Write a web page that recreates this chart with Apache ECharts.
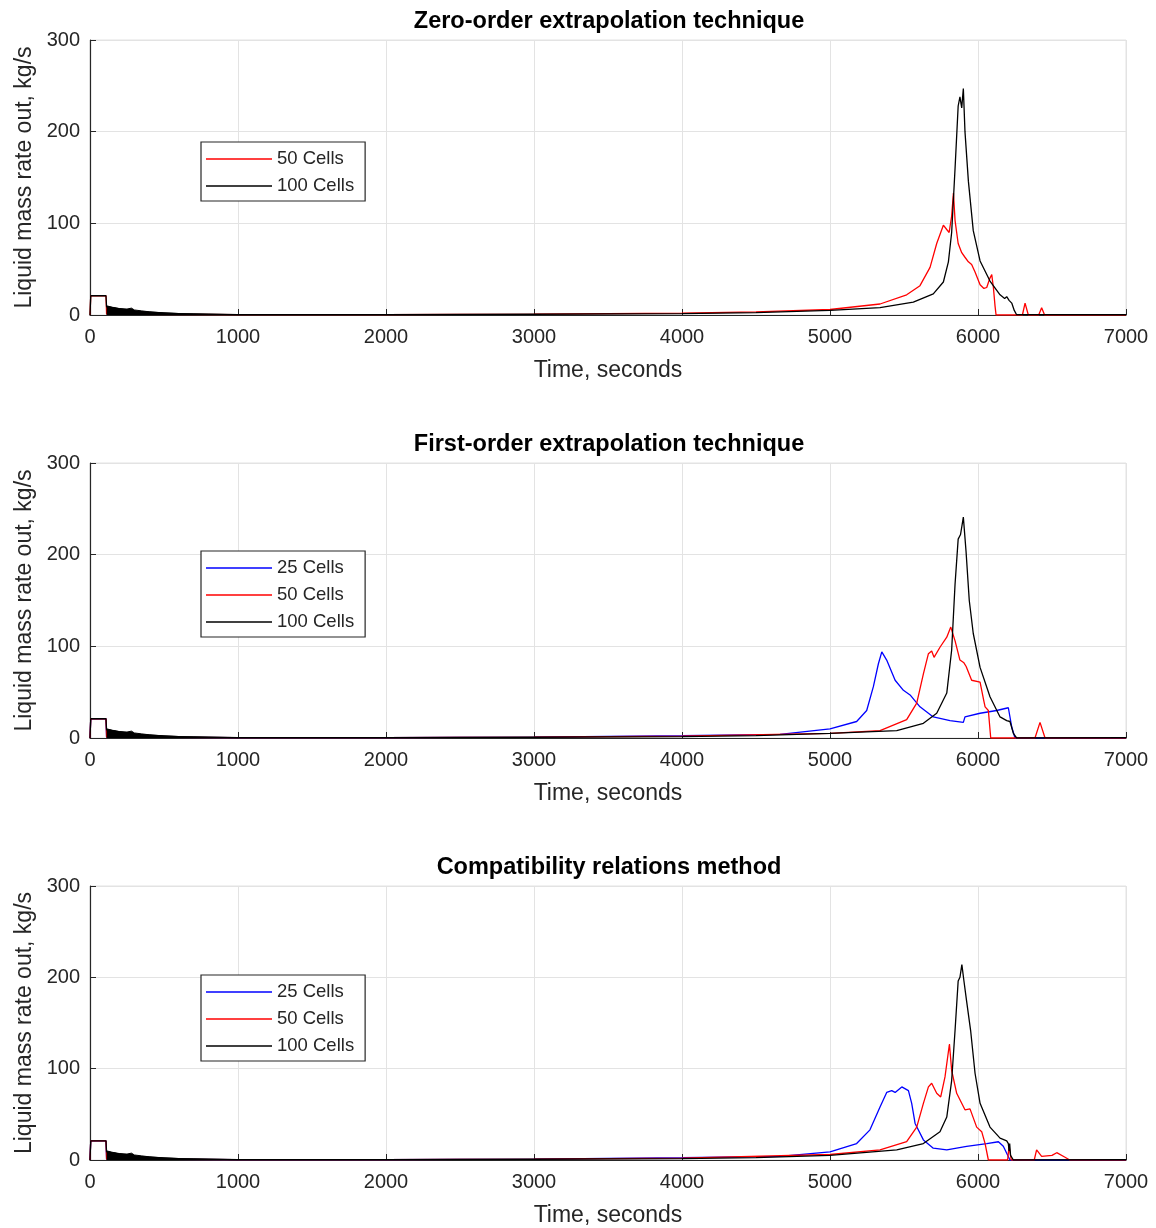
<!DOCTYPE html>
<html>
<head>
<meta charset="utf-8">
<script src="https://cdn.jsdelivr.net/npm/echarts@6/dist/echarts.min.js"></script>
<style>
html,body{margin:0;padding:0;background:#fff;}
#chart{width:1156px;height:1228px;}
</style>
</head>
<body>
<div id="chart"></div>
<script>
// ---------- Data ----------
const titles = ['Zero-order extrapolation technique', 'First-order extrapolation technique', 'Compatibility relations method'];
const xTicks = [0, 1000, 2000, 3000, 4000, 5000, 6000, 7000];
const yTicks = [0, 100, 200, 300];
const xLabel = 'Time, seconds';
const yLabel = 'Liquid mass rate out, kg/s';

// early oscillating part of 100-cell runs (upper envelope)
const fuzz100 = [[112,10],[150,8.5],[200,7],[250,6.5],[280,7.5],[300,5.5],[350,4.5],[400,3.5],[500,2.2],[600,1.6],[700,1.1],[800,0.8],[1000,0.4]];

// Panel 1: zero-order
const red50_p1 = [[0,0],[5,21],[108,21],[112,1],[300,0.8],[1000,0.5],[2000,0.5],[3000,1],[4000,2],[4500,3.5],[5000,6],[5338,12],[5518,22],[5608,32],[5676,52],[5721,78],[5766,98],[5790,93],[5805,90],[5822,108],[5834,133],[5845,103],[5866,78],[5890,68],[5912,63],[5935,58],[5957,55],[5980,47],[6014,33],[6040,29],[6059,30],[6080,40],[6093,44],[6104,30],[6115,10],[6122,0],[6300,0],[6318,13],[6340,0],[6410,0],[6430,8],[6450,0],[7000,0]];
const black100_p1 = [[0,0],[5,21],[108,21],[112,9],[300,4],[600,1.5],[1000,0.5],[2000,0.4],[3000,0.8],[4000,1.5],[4500,2.5],[5000,5],[5338,8],[5563,14],[5698,23],[5766,36],[5800,58],[5822,90],[5845,160],[5866,228],[5878,238],[5890,226],[5901,247],[5912,200],[5935,146],[5968,92],[6014,59],[6081,37],[6149,22],[6180,18],[6194,20],[6210,16],[6228,13],[6245,5],[6260,0.5],[7000,0.3]];

// Panel 2: first-order
const blue25_p2 = [[0,0],[5,21],[108,21],[112,1],[1000,0.5],[2000,0.5],[3000,1],[4000,2.5],[4662,4],[5000,10],[5180,18],[5248,30],[5293,56],[5327,81],[5350,94],[5383,85],[5440,63],[5496,52],[5541,47],[5608,34],[5698,23],[5811,19],[5901,17],[5912,23],[6014,27],[6126,30],[6205,33],[6228,12],[6250,0],[7000,0]];
const red50_p2 = [[0,0],[5,21],[108,21],[112,1],[1000,0.5],[2000,0.5],[3000,1],[4000,2],[5000,5],[5338,8],[5518,20],[5586,38],[5631,70],[5665,92],[5687,95],[5703,88],[5743,99],[5789,110],[5816,121],[5845,106],[5878,85],[5905,82],[5920,78],[5957,63],[6014,61],[6040,40],[6048,34],[6070,30],[6086,0],[6385,0],[6419,17],[6453,0],[7000,0]];
const black100_p2 = [[0,0],[5,21],[108,21],[112,9],[300,4],[600,1.5],[1000,0.5],[2000,0.4],[3000,0.8],[4000,1.5],[4500,2.5],[5000,5],[5451,8],[5631,16],[5721,27],[5789,49],[5822,96],[5845,168],[5866,217],[5882,222],[5901,241],[5919,204],[5941,150],[5968,114],[6014,77],[6081,45],[6149,23],[6194,19],[6216,18],[6239,5],[6261,0],[7000,0.3]];

// Panel 3: compatibility relations
const blue25_p3 = [[0,0],[5,21],[108,21],[112,1],[1000,0.5],[2000,0.5],[3000,1],[4000,2.5],[4662,4],[5000,9],[5180,18],[5270,33],[5338,58],[5383,74],[5417,76],[5440,74],[5485,80],[5530,76],[5552,62],[5575,40],[5631,22],[5698,13],[5789,11],[5923,15],[6059,18],[6138,20],[6171,15],[6216,0],[7000,0]];
const red50_p3 = [[0,0],[5,21],[108,21],[112,1],[1000,0.5],[2000,0.5],[3000,1],[4000,2],[5000,6],[5338,11],[5518,20],[5586,36],[5631,62],[5665,80],[5687,84],[5721,73],[5748,69],[5777,91],[5807,127],[5822,98],[5856,73],[5912,55],[5946,56],[5991,36],[6025,31],[6048,18],[6070,0],[6200,0],[6210,15],[6225,0],[6380,0],[6396,11],[6430,4],[6500,5],[6532,8],[6588,3],[6620,0],[7000,0]];
const black100_p3 = [[0,0],[5,21],[108,21],[112,9],[300,4],[600,1.5],[1000,0.5],[2000,0.4],[3000,0.8],[4000,1.5],[4500,2.5],[5000,5],[5451,11],[5631,18],[5743,31],[5789,47],[5822,87],[5845,142],[5866,196],[5878,200],[5891,214],[5905,196],[5923,174],[5935,172],[5950,142],[5980,95],[6014,62],[6081,36],[6149,24],[6194,21],[6205,18],[6210,10],[6214,18],[6220,5],[6239,0],[7000,0.3]];

const panels = [
  { title: titles[0], series: [['50 Cells', red50_p1, '#ff0000'], ['100 Cells', black100_p1, '#000000']] },
  { title: titles[1], series: [['25 Cells', blue25_p2, '#0000ff'], ['50 Cells', red50_p2, '#ff0000'], ['100 Cells', black100_p2, '#000000']] },
  { title: titles[2], series: [['25 Cells', blue25_p3, '#0000ff'], ['50 Cells', red50_p3, '#ff0000'], ['100 Cells', black100_p3, '#000000']] }
];

// ---------- Layout ----------
const FONT = '"Liberation Sans", Arial, Helvetica, sans-serif';
const TXT = '#262626';
const gridTops = [40, 463, 886];
const legendTops = [142, 551, 975];
const plotLeft = 90, plotWidth = 1036, plotHeight = 275;

const option = {
  animation: false,
  backgroundColor: '#ffffff',
  title: [], grid: [], xAxis: [], yAxis: [], legend: [], series: []
};

panels.forEach((p, i) => {
  option.title.push({
    text: p.title, left: plotLeft + plotWidth / 2 - 4, top: gridTops[i] - 35, textAlign: 'center',
    textStyle: { fontFamily: FONT, fontSize: 23.5, fontWeight: 'bold', color: '#000' }
  });
  option.grid.push({
    left: plotLeft, top: gridTops[i], width: plotWidth, height: plotHeight,
    show: true, borderColor: '#e3e3e3', borderWidth: 1, backgroundColor: 'transparent'
  });
  option.xAxis.push({
    type: 'value', gridIndex: i, min: xTicks[0], max: xTicks[xTicks.length - 1], interval: 1000,
    name: xLabel, nameLocation: 'middle', nameGap: 44,
    nameTextStyle: { fontFamily: FONT, fontSize: 23, color: TXT },
    axisLine: { onZero: false, lineStyle: { color: TXT, width: 1.2 } },
    axisTick: { inside: true, length: 6, lineStyle: { color: TXT } },
    axisLabel: { fontFamily: FONT, fontSize: 20, color: TXT, margin: 12, formatter: v => String(v) },
    splitLine: { show: true, lineStyle: { color: '#e3e3e3', width: 1 } }
  });
  option.yAxis.push({
    type: 'value', gridIndex: i, min: yTicks[0], max: yTicks[yTicks.length - 1], interval: 100,
    name: yLabel, nameLocation: 'middle', nameGap: 54, nameRotate: 90,
    nameTextStyle: { fontFamily: FONT, fontSize: 23, color: TXT },
    axisLine: { show: true, lineStyle: { color: TXT, width: 1.2 } },
    axisTick: { show: true, inside: true, length: 6, lineStyle: { color: TXT } },
    axisLabel: { fontFamily: FONT, fontSize: 20, color: TXT, margin: 10, formatter: v => String(v) },
    splitLine: { show: true, lineStyle: { color: '#e3e3e3', width: 1 } }
  });
  option.legend.push({
    data: p.series.map(s => s[0]),
    orient: 'vertical', left: 201, top: legendTops[i],
    icon: 'rect',
    padding: [7, 11, 5, 5], itemGap: 7, itemWidth: 66, itemHeight: 1.6,
    borderColor: '#262626', borderWidth: 1.2, backgroundColor: '#fff',
    selectedMode: false,
    textStyle: { fontFamily: FONT, fontSize: 18.5, color: TXT, lineHeight: 20 }
  });
  p.series.forEach(s => {
    option.series.push({
      name: s[0], type: 'line', xAxisIndex: i, yAxisIndex: i, data: s[1],
      symbol: 'none', lineStyle: { color: s[2], width: 1.3 }, itemStyle: { color: s[2] },
      z: 2
    });
  });
  option.series.push({
    name: '100 Cells early oscillation', type: 'line', xAxisIndex: i, yAxisIndex: i, data: fuzz100,
    symbol: 'none', lineStyle: { color: '#000', width: 1 }, itemStyle: { color: '#000' },
    areaStyle: { color: '#000', opacity: 1 }, z: 3
  });
});

const chart = echarts.init(document.getElementById('chart'), null, { renderer: 'canvas' });
chart.setOption(option);
</script>
</body>
</html>
